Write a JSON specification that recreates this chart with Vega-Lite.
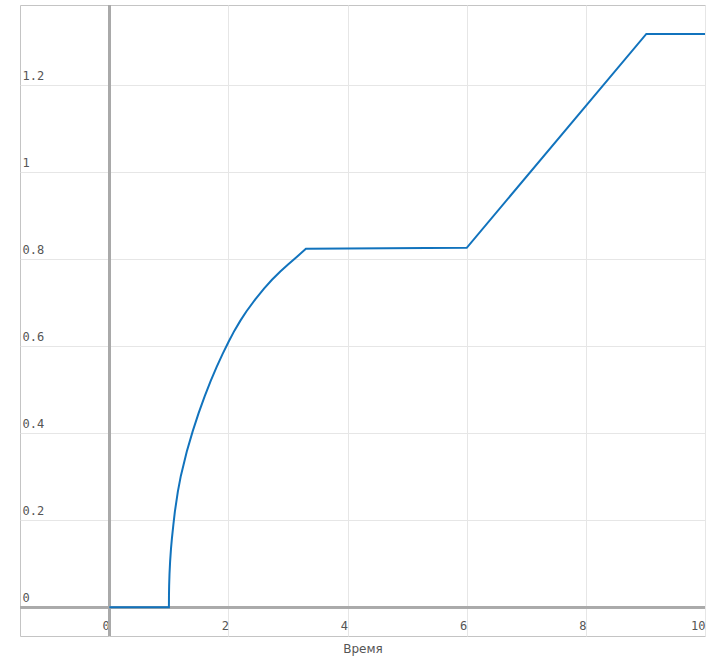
{
  "$schema": "https://vega.github.io/schema/vega-lite/v6.json",
  "width": 685,
  "height": 631,
  "autosize": {"type": "none"},
  "padding": {"left": 20, "top": 5, "right": 10, "bottom": 20},
  "background": "white",
  "config": {
    "view": {"stroke": "#c4c4c4", "strokeWidth": 1},
    "axis": {
      "grid": true,
      "gridColor": "#e6e6e6",
      "gridWidth": 1,
      "domain": false,
      "ticks": false,
      "tickSize": 0,
      "labelFont": "DejaVu Sans Mono",
      "labelFontSize": 12,
      "labelColor": "#555555",
      "titleFont": "DejaVu Sans",
      "titleFontSize": 12,
      "titleFontWeight": "normal",
      "titleColor": "#555555"
    }
  },
  "data": {"values": [
    {"t": 0, "v": 0},
    {"t": 1.0, "v": 0},
    {"t": 1.001, "v": 0.027},
    {"t": 1.004, "v": 0.051},
    {"t": 1.01, "v": 0.077},
    {"t": 1.02, "v": 0.105},
    {"t": 1.035, "v": 0.135},
    {"t": 1.05, "v": 0.158},
    {"t": 1.075, "v": 0.19},
    {"t": 1.1, "v": 0.22},
    {"t": 1.15, "v": 0.266},
    {"t": 1.2, "v": 0.302},
    {"t": 1.3, "v": 0.358},
    {"t": 1.4, "v": 0.405},
    {"t": 1.5, "v": 0.447},
    {"t": 1.6, "v": 0.485},
    {"t": 1.7, "v": 0.52},
    {"t": 1.8, "v": 0.552},
    {"t": 1.9, "v": 0.582},
    {"t": 2.0, "v": 0.61},
    {"t": 2.1, "v": 0.636},
    {"t": 2.2, "v": 0.659},
    {"t": 2.3, "v": 0.68},
    {"t": 2.45, "v": 0.708},
    {"t": 2.6, "v": 0.733},
    {"t": 2.73, "v": 0.753},
    {"t": 2.87, "v": 0.772},
    {"t": 3.0, "v": 0.788},
    {"t": 3.15, "v": 0.806},
    {"t": 3.30, "v": 0.824},
    {"t": 6.0, "v": 0.8265},
    {"t": 9.015, "v": 1.318},
    {"t": 10.0, "v": 1.318}
  ]},
  "layer": [
    {
      "mark": {"type": "rule", "color": "#aaaaaa", "strokeWidth": 2},
      "encoding": {"x": {"datum": 0, "type": "quantitative"}}
    },
    {
      "mark": {"type": "rule", "color": "#aaaaaa", "strokeWidth": 2},
      "encoding": {"y": {"datum": 0, "type": "quantitative"}}
    },
    {
      "mark": {"type": "line", "color": "#1173bd", "strokeWidth": 2, "interpolate": "linear"},
      "encoding": {
        "x": {
          "field": "t",
          "type": "quantitative",
          "title": "Время",
          "scale": {"domain": [-1.5, 10], "nice": false, "zero": false},
          "axis": {
            "orient": "bottom",
            "values": [0, 2, 4, 6, 8, 10],
            "format": "~g",
            "labelAlign": "right",
            "labelBaseline": "middle",
            "labelPadding": -11,
            "labelDx": -2,
            "labelFlush": false,
            "labelOverlap": false,
            "titleY": 16,
            "titleBaseline": "alphabetic"
          }
        },
        "y": {
          "field": "v",
          "type": "quantitative",
          "title": null,
          "scale": {"domain": [-0.066, 1.3846], "nice": false, "zero": false},
          "axis": {
            "orient": "left",
            "values": [0, 0.2, 0.4, 0.6, 0.8, 1, 1.2],
            "format": "~g",
            "labelAlign": "left",
            "labelBaseline": "middle",
            "labelPadding": -2,
            "labelOffset": -10,
            "labelFlush": false,
            "labelOverlap": false
          }
        }
      }
    }
  ]
}
